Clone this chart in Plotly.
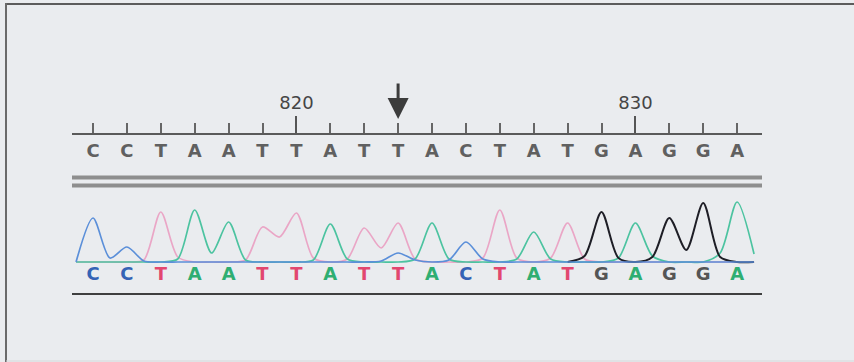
import numpy as np
import plotly.graph_objects as go

# ---------------- data ----------------
positions = list(range(814, 834))
bases = ["C", "C", "T", "A", "A", "T", "T", "A", "T", "T",
         "A", "C", "T", "A", "T", "G", "A", "G", "G", "A"]
major_ticks = [815, 820, 825, 830]
major_labels = ["", "820", "", "830"]
arrow_position = 823

# chromatogram vertices at half-base steps 813.5 ... 833.5 (41 points)
trace_x = [813.5 + 0.5 * k for k in range(41)]
signal_C = [0, 44, 4, 15, 1, 0, 0, 0, 0, 0,
            0, 0, 0, 0, 0, 0, 0, 0, 1, 9,
            2, 0, 2, 20, 3, 0, 0, 0, 0, 0,
            0, 0, 0, 0, 0, 0, 0, 0, 0, 0, 0]
signal_T = [0, 0, 0, 0, 2, 50, 5, 0, 0, 0,
            2, 35, 25, 49, 4, 0, 3, 34, 14, 39,
            3, 0, 0, 0, 4, 52, 4, 0, 4, 39,
            3, 0, 0, 0, 0, 0, 0, 0, 0, 0, 0]
signal_A = [0, 0, 0, 0, 0, 0, 3, 52, 9, 40,
            2, 0, 0, 0, 2, 38, 3, 0, 0, 0,
            3, 39, 3, 0, 0, 0, 3, 30, 3, 0,
            0, 0, 4, 39, 6, 0, 0, 0, 9, 60, 8]
signal_G = [None] * 29 + [0, 6, 50, 4, 0, 5, 44, 12, 59, 5, 0, 0]

# ---------------- styling ----------------
BG = "#eaecef"
trace_colors = {"C": "#5b8fd9", "T": "#eaa6c6", "A": "#4cc3a0", "G": "#1e1e26"}
letter_colors = {"C": "#3563b5", "T": "#e2476f", "A": "#2fae72", "G": "#555555"}

W, H = 854, 362
x_left_px, x_right_px = 72, 762
first_px, step_px = 93, 33.9
r0 = positions[0] + (x_left_px - first_px) / step_px
r1 = positions[0] + (x_right_px - first_px) / step_px
xdom = [x_left_px / W, x_right_px / W]

def py(p):
    return (H - p) / H

fig = go.Figure()

for ch, sig, w in [("T", signal_T, 1.7), ("A", signal_A, 1.7),
                   ("G", signal_G, 2.0), ("C", signal_C, 1.7)]:
    fig.add_trace(go.Scatter(
        x=trace_x, y=sig, mode="lines",
        line=dict(color=trace_colors[ch], width=w, shape="spline", smoothing=0.8),
        xaxis="x", yaxis="y", hoverinfo="skip", showlegend=False,
        connectgaps=False))

# base calls under the trace
fig.add_trace(go.Scatter(
    x=positions, y=[-13] * len(positions), mode="text", text=bases,
    textfont=dict(family="DejaVu Sans", size=18, weight="bold",
                  color=[letter_colors[b] for b in bases]),
    xaxis="x", yaxis="y", hoverinfo="skip", showlegend=False))

# base calls under the ruler
fig.add_trace(go.Scatter(
    x=positions, y=[0.5] * len(positions), mode="text", text=bases,
    textfont=dict(family="DejaVu Sans", size=18, weight="bold", color="#606060"),
    xaxis="x2", yaxis="y2", hoverinfo="skip", showlegend=False))

fig.update_layout(
    width=W, height=H,
    margin=dict(l=0, r=0, t=0, b=0),
    paper_bgcolor=BG, plot_bgcolor="rgba(0,0,0,0)",
    xaxis=dict(domain=xdom, range=[r0, r1], anchor="y",
               showline=True, linecolor="#3f3f3f", linewidth=2,
               showticklabels=False, ticks="", showgrid=False, zeroline=False),
    yaxis=dict(domain=[py(293), py(192)], range=[-31, 70], visible=False),
    xaxis2=dict(domain=xdom, range=[r0, r1], anchor="y2", side="top",
                showline=True, linecolor="#5a5a5a", linewidth=2,
                tickvals=major_ticks, ticktext=major_labels,
                ticks="outside", ticklen=17, tickwidth=2, tickcolor="#555555",
                minor=dict(tickvals=positions, ticks="outside", ticklen=10,
                           tickwidth=2, tickcolor="#666666"),
                tickfont=dict(family="DejaVu Sans", size=18, color="#454545"),
                ticklabelstandoff=0,
                showgrid=False, zeroline=False),
    yaxis2=dict(domain=[py(170), py(135)], range=[0, 1], visible=False),
    shapes=[
        dict(type="line", xref="paper", yref="paper", x0=5 / W, x1=1,
             y0=py(4), y1=py(4), line=dict(color="#5c5c5c", width=2)),
        dict(type="line", xref="paper", yref="paper", x0=6 / W, x1=6 / W,
             y0=0, y1=py(3), line=dict(color="#6a6a6a", width=2)),
        dict(type="line", xref="paper", yref="paper", x0=6 / W, x1=1,
             y0=py(361), y1=py(361), line=dict(color="#d6d8db", width=1)),
        dict(type="line", xref="x2 domain", yref="paper", x0=0, x1=1,
             y0=py(177.5), y1=py(177.5), line=dict(color="#8e8e8e", width=4)),
        dict(type="line", xref="x2 domain", yref="paper", x0=0, x1=1,
             y0=py(185.5), y1=py(185.5), line=dict(color="#8e8e8e", width=4)),
    ],
    annotations=[
        dict(x=arrow_position, xref="x2", y=py(119), yref="paper",
             text="", showarrow=True, ax=0, ay=-37,
             arrowhead=2, arrowsize=1.4, arrowwidth=3, arrowcolor="#3c3c3c"),
    ],
)

fig.write_html("out.html")
